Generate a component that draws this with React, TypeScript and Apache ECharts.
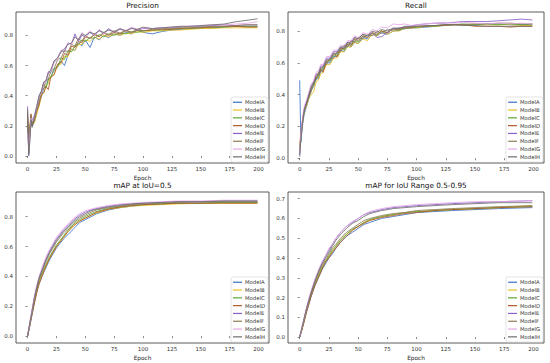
import React, { useEffect, useRef } from "react";
import * as echarts from "echarts";

const models = ["ModelA", "ModelB", "ModelC", "ModelD", "ModelE", "ModelF", "ModelG", "ModelH"];
const colors = ["#3b6fc4", "#e8c020", "#5aa832", "#b05a2a", "#8860c8", "#8c7d55", "#e6a8e6", "#6e6e6e"];

const epochsPR = [0,1,2,3,4,6,8,10,12,14,16,18,20,23,26,29,32,35,38,41,44,47,50,54,58,62,66,70,75,80,85,90,95,100,108,116,124,132,140,150,160,170,180,190,199];
const epochsMAP = [0,2,4,6,8,10,13,16,19,22,25,28,31,35,40,45,50,55,60,70,80,90,100,115,130,150,170,199];

const precisionA = [0.25,0.05,0.15,0.27,0.20,0.23,0.29,0.36,0.39,0.45,0.46,0.51,0.52,0.57,0.59,0.63,0.60,0.67,0.71,0.70,0.75,0.73,0.77,0.72,0.79,0.77,0.80,0.785,0.81,0.80,0.82,0.81,0.835,0.82,0.81,0.825,0.835,0.84,0.845,0.85,0.85,0.855,0.86,0.86,0.86];
const precisionB = [0.28,0.10,0.20,0.26,0.21,0.22,0.28,0.33,0.40,0.42,0.47,0.48,0.53,0.54,0.60,0.61,0.66,0.66,0.71,0.70,0.74,0.74,0.77,0.76,0.79,0.775,0.80,0.79,0.81,0.80,0.815,0.81,0.825,0.82,0.83,0.83,0.835,0.835,0.84,0.845,0.845,0.85,0.85,0.85,0.85];
const precisionC = [0.20,0.08,0.18,0.25,0.22,0.25,0.31,0.38,0.42,0.48,0.45,0.51,0.52,0.58,0.59,0.65,0.64,0.70,0.69,0.73,0.74,0.77,0.76,0.785,0.78,0.805,0.79,0.81,0.80,0.815,0.81,0.825,0.82,0.83,0.835,0.835,0.84,0.845,0.845,0.85,0.855,0.855,0.86,0.86,0.86];
const precisionD = [0.26,0.12,0.19,0.28,0.20,0.24,0.30,0.34,0.41,0.42,0.46,0.44,0.52,0.54,0.61,0.62,0.68,0.67,0.73,0.72,0.76,0.75,0.79,0.78,0.805,0.79,0.815,0.80,0.82,0.81,0.83,0.82,0.835,0.83,0.835,0.84,0.84,0.845,0.85,0.85,0.855,0.86,0.86,0.855,0.855];
const precisionE = [0.33,0.00,0.12,0.22,0.24,0.27,0.33,0.40,0.43,0.49,0.50,0.56,0.55,0.63,0.65,0.70,0.69,0.75,0.74,0.81,0.76,0.80,0.79,0.82,0.80,0.835,0.81,0.845,0.82,0.84,0.83,0.85,0.835,0.845,0.845,0.85,0.85,0.855,0.86,0.86,0.865,0.87,0.865,0.87,0.87];
const precisionF = [0.30,0.02,0.16,0.27,0.20,0.25,0.31,0.36,0.43,0.45,0.50,0.51,0.56,0.58,0.64,0.65,0.70,0.69,0.74,0.73,0.78,0.76,0.80,0.78,0.81,0.795,0.82,0.805,0.83,0.815,0.835,0.82,0.84,0.83,0.84,0.845,0.845,0.85,0.85,0.855,0.86,0.86,0.865,0.87,0.87];
const precisionG = [0.15,0.05,0.14,0.25,0.23,0.26,0.32,0.39,0.42,0.48,0.49,0.55,0.56,0.62,0.64,0.70,0.71,0.75,0.74,0.79,0.77,0.82,0.79,0.83,0.80,0.84,0.81,0.835,0.825,0.845,0.83,0.855,0.84,0.85,0.845,0.85,0.855,0.86,0.86,0.865,0.87,0.87,0.875,0.88,0.89];
const precisionH = [0.31,0.01,0.10,0.24,0.19,0.26,0.33,0.40,0.43,0.49,0.50,0.55,0.57,0.63,0.65,0.69,0.71,0.74,0.75,0.79,0.77,0.81,0.80,0.82,0.81,0.83,0.82,0.835,0.825,0.845,0.83,0.845,0.84,0.855,0.845,0.85,0.855,0.86,0.86,0.865,0.87,0.875,0.89,0.90,0.91];

const recallA = [0.49,0.10,0.18,0.24,0.28,0.33,0.38,0.43,0.45,0.50,0.50,0.55,0.55,0.60,0.60,0.64,0.64,0.68,0.67,0.71,0.70,0.73,0.72,0.76,0.75,0.78,0.77,0.79,0.78,0.80,0.805,0.815,0.82,0.82,0.825,0.83,0.835,0.84,0.84,0.84,0.845,0.845,0.84,0.84,0.84];
const recallB = [0.05,0.15,0.20,0.25,0.30,0.33,0.38,0.40,0.42,0.48,0.49,0.53,0.54,0.59,0.59,0.63,0.63,0.67,0.67,0.70,0.70,0.73,0.72,0.75,0.74,0.78,0.77,0.80,0.78,0.80,0.80,0.82,0.82,0.82,0.83,0.83,0.835,0.84,0.84,0.845,0.84,0.84,0.84,0.835,0.835];
const recallC = [0.03,0.12,0.19,0.26,0.30,0.35,0.39,0.44,0.46,0.51,0.51,0.56,0.56,0.61,0.61,0.65,0.65,0.69,0.68,0.72,0.71,0.74,0.73,0.77,0.76,0.79,0.775,0.80,0.79,0.815,0.805,0.82,0.82,0.825,0.83,0.83,0.84,0.84,0.845,0.84,0.845,0.84,0.845,0.84,0.845];
const recallD = [0.08,0.16,0.22,0.27,0.31,0.35,0.40,0.45,0.47,0.51,0.52,0.56,0.54,0.61,0.62,0.66,0.64,0.69,0.69,0.72,0.71,0.75,0.74,0.77,0.76,0.79,0.78,0.80,0.79,0.815,0.81,0.825,0.82,0.83,0.83,0.835,0.835,0.84,0.84,0.83,0.83,0.83,0.825,0.83,0.83];
const recallE = [0.02,0.14,0.21,0.27,0.31,0.36,0.41,0.46,0.48,0.53,0.53,0.58,0.58,0.63,0.63,0.67,0.67,0.70,0.70,0.73,0.73,0.76,0.75,0.78,0.77,0.79,0.76,0.765,0.79,0.815,0.82,0.825,0.83,0.84,0.845,0.85,0.85,0.855,0.86,0.86,0.86,0.865,0.87,0.875,0.87];
const recallF = [0.06,0.13,0.20,0.26,0.30,0.34,0.39,0.42,0.48,0.49,0.54,0.54,0.58,0.59,0.63,0.63,0.67,0.67,0.71,0.70,0.74,0.73,0.76,0.75,0.78,0.77,0.80,0.785,0.81,0.805,0.82,0.815,0.825,0.83,0.83,0.835,0.84,0.84,0.84,0.845,0.845,0.85,0.85,0.845,0.845];
const recallG = [0.04,0.15,0.22,0.28,0.33,0.37,0.42,0.47,0.49,0.54,0.55,0.59,0.59,0.64,0.64,0.68,0.68,0.71,0.71,0.74,0.74,0.77,0.76,0.79,0.78,0.81,0.80,0.825,0.82,0.845,0.84,0.845,0.835,0.84,0.845,0.85,0.855,0.85,0.855,0.85,0.845,0.85,0.845,0.85,0.845];
const recallH = [0.01,0.12,0.19,0.26,0.31,0.35,0.40,0.45,0.47,0.52,0.53,0.57,0.57,0.62,0.62,0.66,0.66,0.70,0.69,0.73,0.72,0.76,0.75,0.78,0.77,0.80,0.79,0.81,0.80,0.82,0.815,0.83,0.83,0.83,0.835,0.835,0.84,0.84,0.835,0.835,0.83,0.83,0.83,0.83,0.83];

const map50A = [0.0,0.07,0.15,0.23,0.30,0.35,0.41,0.46,0.51,0.55,0.59,0.62,0.65,0.68,0.72,0.76,0.78,0.80,0.82,0.845,0.86,0.87,0.88,0.885,0.89,0.89,0.895,0.895];
const map50B = [0.0,0.08,0.16,0.24,0.30,0.36,0.42,0.47,0.52,0.56,0.60,0.63,0.66,0.70,0.74,0.77,0.79,0.81,0.825,0.85,0.86,0.87,0.875,0.88,0.885,0.89,0.89,0.89];
const map50C = [0.0,0.08,0.16,0.24,0.31,0.37,0.43,0.48,0.53,0.57,0.61,0.64,0.67,0.71,0.75,0.78,0.80,0.82,0.835,0.855,0.865,0.875,0.88,0.885,0.89,0.89,0.895,0.895];
const map50D = [0.0,0.07,0.15,0.22,0.29,0.35,0.41,0.47,0.52,0.56,0.60,0.63,0.66,0.70,0.74,0.77,0.79,0.81,0.83,0.85,0.865,0.875,0.88,0.885,0.89,0.89,0.89,0.89];
const map50E = [0.0,0.09,0.18,0.26,0.33,0.39,0.46,0.52,0.57,0.61,0.65,0.68,0.71,0.74,0.78,0.81,0.83,0.845,0.855,0.87,0.88,0.885,0.89,0.895,0.9,0.9,0.905,0.905];
const map50F = [0.0,0.08,0.17,0.25,0.32,0.38,0.44,0.50,0.55,0.59,0.63,0.66,0.69,0.72,0.76,0.79,0.81,0.83,0.845,0.86,0.87,0.88,0.885,0.89,0.895,0.9,0.9,0.9];
const map50G = [0.0,0.09,0.18,0.27,0.34,0.40,0.47,0.53,0.58,0.62,0.66,0.69,0.72,0.75,0.79,0.82,0.84,0.85,0.86,0.875,0.885,0.89,0.895,0.9,0.905,0.905,0.91,0.91];
const map50H = [0.0,0.09,0.17,0.26,0.33,0.39,0.45,0.51,0.56,0.60,0.64,0.67,0.70,0.73,0.77,0.80,0.82,0.84,0.85,0.865,0.875,0.885,0.89,0.895,0.9,0.9,0.905,0.905];

const map5095A = [0,0.04,0.09,0.13,0.17,0.21,0.26,0.30,0.34,0.37,0.40,0.42,0.45,0.48,0.51,0.53,0.55,0.57,0.58,0.60,0.61,0.62,0.63,0.635,0.64,0.645,0.65,0.655];
const map5095B = [0,0.04,0.09,0.14,0.18,0.22,0.27,0.31,0.35,0.38,0.41,0.43,0.46,0.49,0.52,0.54,0.56,0.58,0.59,0.61,0.62,0.63,0.635,0.64,0.645,0.65,0.655,0.665];
const map5095C = [0,0.04,0.09,0.14,0.18,0.22,0.27,0.31,0.35,0.38,0.41,0.44,0.46,0.49,0.52,0.545,0.56,0.58,0.595,0.61,0.62,0.63,0.635,0.64,0.645,0.65,0.655,0.66];
const map5095D = [0,0.04,0.08,0.13,0.17,0.21,0.26,0.30,0.34,0.38,0.40,0.43,0.45,0.48,0.51,0.54,0.56,0.575,0.59,0.605,0.615,0.625,0.63,0.64,0.645,0.65,0.655,0.66];
const map5095E = [0,0.05,0.10,0.15,0.19,0.23,0.29,0.33,0.37,0.41,0.44,0.47,0.50,0.53,0.56,0.58,0.60,0.62,0.63,0.645,0.655,0.66,0.665,0.67,0.675,0.68,0.685,0.69];
const map5095F = [0,0.04,0.09,0.14,0.18,0.22,0.28,0.32,0.36,0.39,0.42,0.45,0.47,0.50,0.53,0.55,0.57,0.59,0.60,0.615,0.625,0.63,0.64,0.645,0.65,0.655,0.66,0.665];
const map5095G = [0,0.05,0.10,0.15,0.20,0.24,0.29,0.34,0.38,0.41,0.45,0.47,0.50,0.53,0.56,0.585,0.60,0.62,0.635,0.65,0.66,0.665,0.67,0.675,0.68,0.685,0.685,0.69];
const map5095H = [0,0.05,0.10,0.15,0.19,0.23,0.28,0.33,0.37,0.40,0.43,0.46,0.49,0.52,0.55,0.575,0.59,0.61,0.625,0.64,0.65,0.655,0.66,0.665,0.67,0.675,0.68,0.68];

const xTicks = [0, 25, 50, 75, 100, 125, 150, 175, 200];
const yTicksA = [0, 0.2, 0.4, 0.6, 0.8];
const yTicksB = [0, 0.1, 0.2, 0.3, 0.4, 0.5, 0.6, 0.7];

const panels = [
  { title: "Precision", epochs: epochsPR, data: [precisionA, precisionB, precisionC, precisionD, precisionE, precisionF, precisionG, precisionH], yMin: -0.046, yMax: 0.955, yTicks: yTicksA },
  { title: "Recall", epochs: epochsPR, data: [recallA, recallB, recallC, recallD, recallE, recallF, recallG, recallH], yMin: -0.03, yMax: 0.92, yTicks: yTicksA },
  { title: "mAP at IoU=0.5", epochs: epochsMAP, data: [map50A, map50B, map50C, map50D, map50E, map50F, map50G, map50H], yMin: -0.046, yMax: 0.965, yTicks: yTicksA },
  { title: "mAP for IoU Range 0.5-0.95", epochs: epochsMAP, data: [map5095A, map5095B, map5095C, map5095D, map5095E, map5095F, map5095G, map5095H], yMin: -0.03, yMax: 0.734, yTicks: yTicksB },
];

const gridBoxes = [
  { left: 16, top: 12, width: 253, height: 151 },
  { left: 288, top: 12, width: 256, height: 151 },
  { left: 16, top: 192, width: 253, height: 151 },
  { left: 288, top: 192, width: 256, height: 151 },
];

export default function App() {
  const ref = useRef<HTMLDivElement>(null);
  useEffect(() => {
    if (!ref.current) return;
    const chart = echarts.init(ref.current, null, { renderer: "svg" });
    const font = "DejaVu Sans";
    const grid = gridBoxes.map((g) => ({ ...g, show: true, borderColor: "#333", borderWidth: 0.8, backgroundColor: "#fff" }));
    const xAxis = panels.map((p, i) => ({
      type: "value",
      gridIndex: i,
      min: -10,
      max: 209,
      splitLine: { show: false },
      axisLine: { show: false },
      axisTick: { show: true, inside: false, length: 2, lineStyle: { color: "#333", width: 0.6 }, customValues: xTicks },
      axisLabel: { fontSize: 5.5, color: "#333", margin: 3, fontFamily: font, customValues: xTicks, formatter: (v: number) => String(v) },
      name: "Epoch",
      nameLocation: "middle",
      nameGap: 12,
      nameTextStyle: { fontSize: 5.8, color: "#222", fontFamily: font },
    }));
    const yAxis = panels.map((p, i) => ({
      type: "value",
      gridIndex: i,
      min: p.yMin,
      max: p.yMax,
      splitLine: { show: false },
      axisLine: { show: false },
      axisTick: { show: true, inside: false, length: 2, lineStyle: { color: "#333", width: 0.6 }, customValues: p.yTicks },
      axisLabel: { fontSize: 5.5, color: "#333", margin: 3, fontFamily: font, customValues: p.yTicks, formatter: (v: number) => v.toFixed(1) },
    }));
    const title = panels.map((p, i) => ({
      text: p.title,
      left: gridBoxes[i].left + gridBoxes[i].width / 2,
      top: gridBoxes[i].top - 10,
      textAlign: "center",
      padding: 0,
      textStyle: { fontSize: 7.3, fontWeight: "normal", color: "#111", fontFamily: font },
    }));
    const legend = gridBoxes.map((g) => ({
      data: models,
      orient: "vertical",
      left: g.left + g.width - 38,
      top: g.top + g.height - 66,
      icon: "rect",
      itemWidth: 9,
      itemHeight: 1.2,
      itemGap: 1.3,
      padding: [2, 3, 2, 2],
      backgroundColor: "rgba(255,255,255,0.85)",
      borderColor: "#d0d0d0",
      borderWidth: 0.6,
      borderRadius: 2,
      selectedMode: false,
      textStyle: { fontSize: 5.3, color: "#333", fontFamily: font, lineHeight: 6.5, padding: [0, 0, 0, -2] },
    }));
    const series: any[] = [];
    panels.forEach((p, i) => {
      p.data.forEach((vals, k) => {
        series.push({
          type: "line",
          name: models[k],
          xAxisIndex: i,
          yAxisIndex: i,
          data: p.epochs.map((e, j) => [e, vals[j]]),
          symbol: "none",
          lineStyle: { width: 0.85, color: colors[k] },
          itemStyle: { color: colors[k] },
          z: 2,
        });
      });
    });
    chart.setOption({
      animation: false,
      backgroundColor: "#fff",
      title,
      grid,
      xAxis,
      yAxis,
      legend,
      series,
    });
    return () => chart.dispose();
  }, []);
  return <div ref={ref} style={{ position: "fixed", left: 0, top: 0, width: 550, height: 363 }} />;
}
